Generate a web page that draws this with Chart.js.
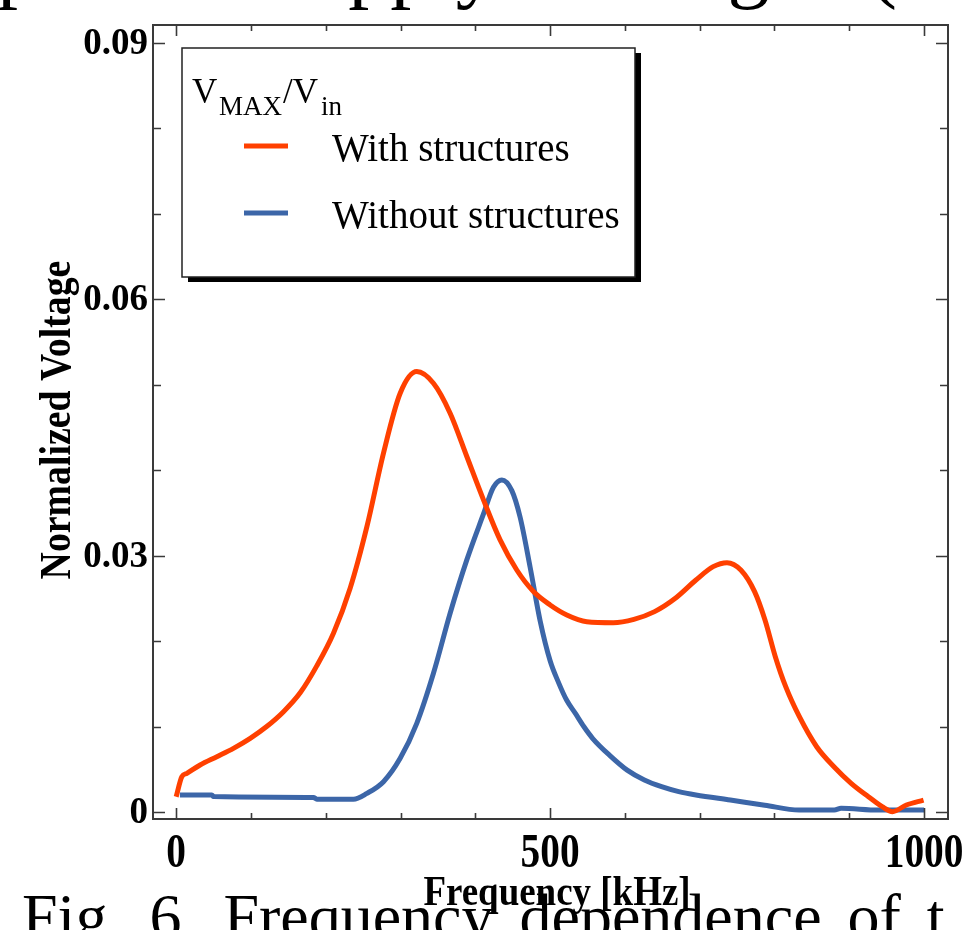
<!DOCTYPE html>
<html>
<head>
<meta charset="utf-8">
<script src="https://cdn.jsdelivr.net/npm/chart.js@4/dist/chart.umd.min.js"></script>
<style>
  html, body { margin: 0; padding: 0; background: #fff; }
  body { width: 968px; height: 930px; position: relative; overflow: hidden; }
  .page-text { position: absolute; font-family: "Liberation Serif", serif; color: #000; white-space: nowrap; line-height: 1; }
  #head { left: -45px; top: -78px; font-size: 84px; word-spacing: 41px; }
  #caption { left: 22px; top: 885px; font-size: 64px; word-spacing: 10px; }
  #wrap { position: absolute; left: 0; top: 0; width: 968px; height: 930px; }
</style>
</head>
<body>
<div id="head" class="page-text">optimal supply voltage (</div>
<div id="caption" class="page-text">Fig. 6. Frequency dependence of t</div>
<div id="wrap"><canvas id="chart"></canvas></div>
<script>
'use strict'

// response with structures (kHz / normalized voltage)
const freqWith = [0, 7.6, 14.3, 32, 54.4, 76.6, 99, 121, 143.5, 165.8, 188, 210.3, 232.6, 255, 277.2, 299.5,
    321.7, 344, 366.3, 388.6, 410.9, 433.1, 455.4, 477.7, 500, 522.3, 549, 584.4, 612, 639.7, 667.4, 695,
    718, 736.5, 755, 773.4, 787.3, 801.1, 815, 833.3, 856.4, 879.5, 902.5, 925.6, 944, 957.8, 976.3, 999.3]
const voltWith = [0.00179, 0.00413, 0.00453, 0.0055, 0.00647, 0.00745, 0.00862, 0.0100, 0.01174, 0.01395,
    0.0171, 0.02092, 0.02618, 0.03339, 0.0420, 0.0490, 0.05154, 0.05017, 0.04667, 0.0416, 0.03652, 0.03184,
    0.02832, 0.0258, 0.02423, 0.02306, 0.02227, 0.02216, 0.02255, 0.02345, 0.02501, 0.02715, 0.02871, 0.02918,
    0.02832, 0.02579, 0.02247, 0.01818, 0.01467, 0.01115, 0.00764, 0.0053, 0.00336, 0.00179, 0.00062, 0.00004,
    0.00082, 0.0014]

// response without structures
const freqWithout = [5, 47.7, 50, 183.6, 188, 237, 255, 277.2, 299.5, 321.7, 344, 366.3, 388.6, 410.9, 424.2,
    435.4, 448.8, 459.9, 473.3, 486.6, 500, 511, 522, 534, 545, 557, 580, 603, 626, 649, 672, 695, 741, 787,
    833, 880, 889, 939, 1000]
const voltWithout = [0.0020, 0.0020, 0.0018, 0.0017, 0.0015, 0.0015, 0.00218, 0.00355, 0.00628, 0.01038,
    0.01623, 0.02326, 0.0295, 0.03488, 0.0380, 0.03886, 0.03761, 0.03449, 0.02863, 0.02239, 0.0177, 0.0152,
    0.0131, 0.0115, 0.0100, 0.0086, 0.0066, 0.0049, 0.00375, 0.00296, 0.00238, 0.00199, 0.0014, 0.0008,
    0.00023, 0.00023, 0.00043, 0.00023, 0.00023]

const xTicks = [0, 100, 200, 300, 400, 500, 600, 700, 800, 900, 1000]
const xLabels = ['0', '500', '1000']
const yTicks = [0, 0.01, 0.02, 0.03, 0.04, 0.05, 0.06, 0.07, 0.08, 0.09]
const yLabels = ['0', '0.03', '0.06', '0.09']

const ORANGE = '#FF4000'
const BLUE = '#3C66A8'
const SERIF = '"Liberation Serif", "Times New Roman", serif'

const points = (xs, ys) => xs.map((x, i) => ({ x: x, y: ys[i] }))

function drawText (ctx, str, x, y, size, bold, align, sx) {
    ctx.save()
    ctx.translate(x, y)
    ctx.scale(sx || 1, 1)
    ctx.font = (bold ? 'bold ' : '') + size + 'px ' + SERIF
    ctx.textAlign = align
    ctx.textBaseline = 'alphabetic'
    ctx.fillStyle = '#000'
    ctx.fillText(str, 0, 0)
    ctx.restore()
}

// boxed frame with inward ticks on all four sides, labels and titles
const framePlugin = {
    id: 'frame',
    afterDatasetsDraw (chart) {
        const ctx = chart.ctx
        const area = chart.chartArea
        const xs = chart.scales.x
        const ys = chart.scales.y

        ctx.save()
        ctx.strokeStyle = '#3a3a3a'
        ctx.lineWidth = 2
        ctx.strokeRect(area.left, area.top, area.right - area.left, area.bottom - area.top)

        ctx.lineWidth = 1.6
        ctx.beginPath()
        xTicks.forEach((v) => {
            const px = Math.round(xs.getPixelForValue(v)) + 0.5
            const len = v % 500 === 0 ? 11 : 6
            ctx.moveTo(px, area.bottom); ctx.lineTo(px, area.bottom - len)
            ctx.moveTo(px, area.top); ctx.lineTo(px, area.top + len)
        })
        yTicks.forEach((v, i) => {
            const py = Math.round(ys.getPixelForValue(v)) + 0.5
            const len = i % 3 === 0 ? 12 : 8
            ctx.moveTo(area.left, py); ctx.lineTo(area.left + len, py)
            ctx.moveTo(area.right, py); ctx.lineTo(area.right - len, py)
        })
        ctx.stroke()
        ctx.restore()

        xLabels.forEach((t) => {
            drawText(ctx, t, xs.getPixelForValue(Number(t)), 867, 48, true, 'center', 0.82)
        })
        yLabels.forEach((t) => {
            drawText(ctx, t, area.left - 5, ys.getPixelForValue(Number(t)) + 11, 37, true, 'right')
        })

        drawText(ctx, 'Frequency [kHz]', 557, 905, 42, true, 'center', 0.88)

        ctx.save()
        ctx.translate(70, 420)
        ctx.rotate(-Math.PI / 2)
        ctx.scale(0.84, 1)
        ctx.font = 'bold 45px ' + SERIF
        ctx.textAlign = 'center'
        ctx.fillStyle = '#000'
        ctx.fillText('Normalized Voltage', 0, 0)
        ctx.restore()
    }
}

// legend box with drop shadow, title V_MAX/V_in
const legendPlugin = {
    id: 'boxLegend',
    afterDraw (chart) {
        const ctx = chart.ctx
        const box = { x: 182, y: 48, w: 453, h: 229 }

        ctx.save()
        ctx.fillStyle = '#000'
        ctx.fillRect(box.x + 6, box.y + 5, box.w, box.h)
        ctx.fillStyle = '#fff'
        ctx.fillRect(box.x, box.y, box.w, box.h)
        ctx.strokeStyle = '#222'
        ctx.lineWidth = 1.5
        ctx.strokeRect(box.x, box.y, box.w, box.h)
        ctx.restore()

        drawText(ctx, 'V', 192, 103, 35, false, 'left')
        drawText(ctx, 'MAX', 219, 115, 27, false, 'left')
        drawText(ctx, '/V', 283, 103, 35, false, 'left')
        drawText(ctx, 'in', 321, 115, 27, false, 'left')

        const rows = [161, 228]
        chart.data.datasets.forEach((ds, i) => {
            const base = rows[i]
            ctx.save()
            ctx.strokeStyle = ds.borderColor
            ctx.lineWidth = 5
            ctx.beginPath()
            ctx.moveTo(244, base - 15)
            ctx.lineTo(288, base - 15)
            ctx.stroke()
            ctx.restore()
            drawText(ctx, ds.label, 332, base, 39, false, 'left')
        })
    }
}

const chart = new Chart(document.getElementById('chart'), {
    type: 'line',
    data: {
        datasets: [
            {
                label: 'With structures',
                data: points(freqWith, voltWith),
                borderColor: ORANGE,
                borderWidth: 5,
                pointRadius: 0,
                cubicInterpolationMode: 'monotone',
                borderJoinStyle: 'round'
            },
            {
                label: 'Without structures',
                data: points(freqWithout, voltWithout),
                borderColor: BLUE,
                borderWidth: 5,
                pointRadius: 0,
                cubicInterpolationMode: 'monotone',
                borderJoinStyle: 'round'
            }
        ]
    },
    options: {
        responsive: true,
        maintainAspectRatio: false,
        animation: false,
        layout: { padding: { left: 153, right: 20, top: 25, bottom: 111 } },
        plugins: { legend: { display: false }, tooltip: { enabled: false } },
        scales: {
            x: { type: 'linear', min: -31, max: 1032, display: false },
            y: { type: 'linear', min: -0.00082, max: 0.0921, display: false }
        }
    },
    plugins: [framePlugin, legendPlugin]
})
</script>
</body>
</html>
